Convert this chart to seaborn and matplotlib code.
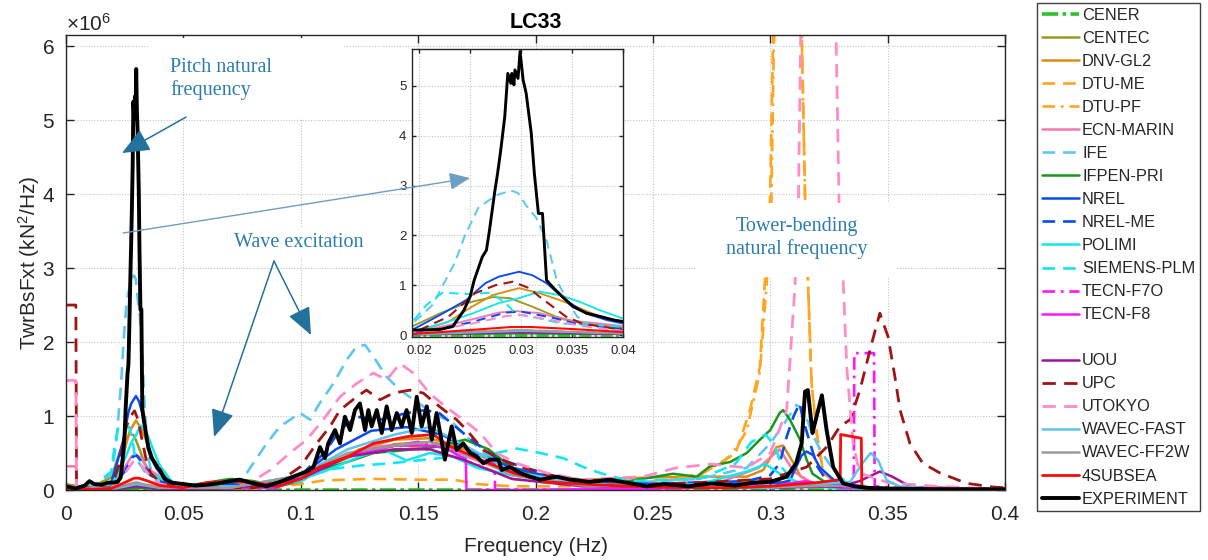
import numpy as np
import pandas as pd
import matplotlib
matplotlib.use("Agg")
import matplotlib.pyplot as plt
import seaborn as sns
from matplotlib.lines import Line2D
from matplotlib.patches import Rectangle, ArrowStyle
from matplotlib.ticker import FuncFormatter, ScalarFormatter

sns.set_theme(style="white")
plt.rcParams["font.family"] = ["Liberation Sans", "DejaVu Sans"]
plt.rcParams["mathtext.fontset"] = "custom"
plt.rcParams["mathtext.rm"] = "Liberation Sans"
plt.rcParams["mathtext.it"] = "Liberation Sans:italic"
plt.rcParams["mathtext.bf"] = "Liberation Sans:bold"

# ---------------------------------------------------------------------------
# Power spectral density of tower-base fore-aft shear, LC33 (values x 1e6)
# ---------------------------------------------------------------------------
SCALE = 1e6

f_cener = [0, 0.05, 0.1, 0.2, 0.3, 0.35, 0.4]
p_cener = [0.005, 0.005, 0.005, 0.005, 0.005, 0.005, 0.005]

f_centec = [0, 0.005, 0.012, 0.0193, 0.022, 0.0246, 0.0272, 0.0289, 0.0311, 0.0334, 0.036, 0.04, 0.045,
            0.055, 0.065, 0.075, 0.085, 0.095, 0.11, 0.125, 0.14, 0.155, 0.17, 0.185, 0.2, 0.22, 0.25,
            0.28, 0.3, 0.32, 0.35, 0.4]
p_centec = [0.08, 0.05, 0.06, 0.17, 0.43, 0.64, 0.76, 0.74, 0.57, 0.37, 0.23, 0.15, 0.07,
            0.06, 0.1, 0.1, 0.05, 0.1, 0.3, 0.5, 0.62, 0.65, 0.55, 0.35, 0.2, 0.1, 0.06,
            0.08, 0.12, 0.05, 0.02, 0.01]

f_dnvgl2 = [0, 0.012, 0.0193, 0.0229, 0.0252, 0.0272, 0.0298, 0.0318, 0.0338, 0.0354, 0.0377, 0.04,
            0.045, 0.055, 0.07, 0.085, 0.095, 0.11, 0.125, 0.14, 0.155, 0.17, 0.185, 0.2, 0.22, 0.25,
            0.27, 0.29, 0.297, 0.3027, 0.3055, 0.31, 0.313, 0.32, 0.35, 0.4]
p_dnvgl2 = [0.02, 0.02, 0.03, 0.27, 0.57, 0.8, 0.94, 0.84, 0.7, 0.57, 0.37, 0.27,
            0.1, 0.05, 0.08, 0.04, 0.08, 0.3, 0.55, 0.68, 0.7, 0.55, 0.35, 0.22, 0.14, 0.17,
            0.18, 0.18, 0.27, 0.58, 0.6, 0.36, 0.18, 0.06, 0.02, 0.01]

f_dtume = [0, 0.02, 0.03, 0.04, 0.05, 0.08, 0.1, 0.11, 0.13, 0.15, 0.165, 0.175, 0.19, 0.22, 0.25,
           0.26, 0.27, 0.2785, 0.2857, 0.2914, 0.2956, 0.2978, 0.2999, 0.3012, 0.3065, 0.3134,
           0.3148, 0.316, 0.3176, 0.3198, 0.3226, 0.33, 0.35, 0.4]
p_dtume = [0.02, 0.04, 0.1, 0.04, 0.02, 0.02, 0.08, 0.13, 0.15, 0.14, 0.14, 0.08, 0.05, 0.05, 0.1,
           0.15, 0.22, 0.35, 0.54, 1.08, 1.67, 2.88, 3.92, 6.08, 9.0, 6.2,
           4.0, 2.88, 1.44, 0.77, 0.23, 0.05, 0.02, 0.01]

f_dtupf = [0, 0.02, 0.03, 0.04, 0.05, 0.08, 0.1, 0.115, 0.13, 0.145, 0.16, 0.175, 0.19, 0.21, 0.25,
           0.27, 0.283, 0.29, 0.2956, 0.2985, 0.3005, 0.3015, 0.307, 0.3134, 0.3148, 0.316, 0.3176,
           0.3198, 0.3226, 0.33, 0.35, 0.4]
p_dtupf = [0.02, 0.03, 0.08, 0.03, 0.02, 0.02, 0.15, 0.4, 0.55, 0.6, 0.5, 0.35, 0.15, 0.08, 0.1,
           0.2, 0.45, 0.8, 1.6, 2.8, 3.9, 6.0, 9.0, 6.2, 4.0, 2.88, 1.44,
           0.77, 0.23, 0.05, 0.02, 0.01]

f_ecn = [0, 0.0042, 0.0045, 0.012, 0.0193, 0.0229, 0.0255, 0.0278, 0.0295, 0.0318, 0.0344, 0.04,
         0.045, 0.055, 0.07, 0.085, 0.1, 0.115, 0.13, 0.145, 0.16, 0.175, 0.19, 0.21, 0.25, 0.28,
         0.295, 0.304, 0.31, 0.32, 0.35, 0.4]
p_ecn = [0.32, 0.32, 0.02, 0.02, 0.03, 0.2, 0.33, 0.45, 0.48, 0.44, 0.3, 0.18,
         0.05, 0.05, 0.08, 0.04, 0.15, 0.4, 0.58, 0.62, 0.58, 0.4, 0.22, 0.1, 0.08, 0.12,
         0.3, 0.55, 0.25, 0.05, 0.02, 0.01]

f_ife = [0, 0.012, 0.0193, 0.0213, 0.0235, 0.0245, 0.0258, 0.0275, 0.029, 0.0297, 0.0305, 0.0315,
         0.0325, 0.0335, 0.0345, 0.0355, 0.0365, 0.04, 0.045, 0.06, 0.072, 0.077, 0.0855, 0.0912,
         0.0997, 0.104, 0.108, 0.1139, 0.1196, 0.1238, 0.1274, 0.131, 0.1366, 0.1423, 0.149, 0.1564,
         0.165, 0.1707, 0.178, 0.19, 0.21, 0.24, 0.27, 0.29, 0.3, 0.306, 0.311, 0.314, 0.318, 0.322,
         0.327, 0.333, 0.35, 0.4]
p_ife = [0.02, 0.05, 0.22, 0.6, 1.45, 2.0, 2.55, 2.8, 2.9, 2.85, 2.6, 2.35,
         1.9, 1.1, 0.7, 0.37, 0.23, 0.1, 0.05, 0.02, 0.03, 0.23, 0.63, 0.86,
         1.04, 0.95, 1.17, 1.44, 1.76, 1.94, 1.96, 1.8, 1.53, 1.35, 1.2, 1.04,
         0.9, 0.72, 0.5, 0.3, 0.15, 0.1, 0.15, 0.3, 0.63, 0.9, 1.15, 1.1, 0.75, 0.5,
         0.27, 0.08, 0.02, 0.01]

f_ifpen = [0, 0.012, 0.0193, 0.025, 0.03, 0.035, 0.04, 0.05, 0.06, 0.07, 0.08, 0.09, 0.1, 0.108,
           0.12, 0.131, 0.145, 0.157, 0.17, 0.18, 0.19, 0.2, 0.21, 0.22, 0.24, 0.2586, 0.2687,
           0.2743, 0.283, 0.29, 0.2956, 0.3, 0.304, 0.3055, 0.3084, 0.3127, 0.3155, 0.318, 0.325,
           0.35, 0.4]
p_ifpen = [0.01, 0.01, 0.01, 0.02, 0.03, 0.02, 0.02, 0.05, 0.1, 0.15, 0.12, 0.05, 0.12, 0.27,
           0.38, 0.5, 0.54, 0.58, 0.68, 0.55, 0.3, 0.2, 0.15, 0.12, 0.12, 0.22, 0.18,
           0.32, 0.38, 0.5, 0.68, 0.81, 1.04, 1.08, 0.95, 0.68, 0.41, 0.22, 0.07,
           0.02, 0.01]

f_nrel = [0, 0.012, 0.0193, 0.0223, 0.0246, 0.0265, 0.0278, 0.0298, 0.0311, 0.0325, 0.0344, 0.0364,
          0.0384, 0.04, 0.045, 0.05, 0.07, 0.085, 0.1, 0.115, 0.13, 0.145, 0.16, 0.175, 0.19, 0.21,
          0.25, 0.29, 0.305, 0.3084, 0.311, 0.3134, 0.3155, 0.3183, 0.321, 0.3255, 0.33, 0.35, 0.4]
p_nrel = [0.02, 0.03, 0.1, 0.43, 0.7, 1.04, 1.17, 1.27, 1.2, 1.04, 0.7, 0.43,
          0.3, 0.23, 0.1, 0.05, 0.08, 0.04, 0.2, 0.55, 0.8, 0.85, 0.75, 0.5, 0.3, 0.15,
          0.08, 0.08, 0.1, 0.13, 0.31, 0.47, 0.52, 0.47, 0.31, 0.18, 0.06, 0.02, 0.01]

f_nrelme = [0, 0.0193, 0.025, 0.0285, 0.03, 0.033, 0.036, 0.04, 0.05, 0.07, 0.085, 0.1, 0.11,
            0.1167, 0.1238, 0.1338, 0.1451, 0.153, 0.159, 0.1692, 0.1764, 0.1835, 0.1948, 0.209,
            0.226, 0.25, 0.29, 0.3, 0.304, 0.307, 0.31, 0.3125, 0.314, 0.317, 0.32, 0.324, 0.33,
            0.35, 0.4]
p_nrelme = [0.01, 0.02, 0.25, 0.45, 0.47, 0.35, 0.2, 0.12, 0.04, 0.06, 0.04, 0.2, 0.5,
            0.81, 0.99, 0.95, 1.04, 1.08, 1.04, 0.77, 0.59, 0.43, 0.31, 0.18,
            0.09, 0.08, 0.12, 0.2, 0.36, 0.72, 1.0, 1.17, 0.95, 0.63, 0.32, 0.13, 0.04,
            0.02, 0.01]

f_polimi = [0, 0.012, 0.0193, 0.0223, 0.0252, 0.0278, 0.0298, 0.0318, 0.0338, 0.0357, 0.0377, 0.04,
            0.045, 0.05, 0.07, 0.09, 0.11, 0.125, 0.135, 0.145, 0.155, 0.165, 0.175, 0.19, 0.21,
            0.24, 0.27, 0.29, 0.298, 0.305, 0.315, 0.33, 0.4]
p_polimi = [0.02, 0.02, 0.07, 0.23, 0.43, 0.64, 0.74, 0.87, 0.8, 0.67, 0.5, 0.33,
            0.12, 0.05, 0.05, 0.05, 0.25, 0.45, 0.55, 0.4, 0.5, 0.45, 0.3, 0.2, 0.1,
            0.05, 0.08, 0.25, 0.35, 0.2, 0.06, 0.02, 0.01]

f_siemens = [0, 0.012, 0.0193, 0.0207, 0.0223, 0.025, 0.027, 0.0285, 0.0295, 0.031, 0.034, 0.04,
             0.045, 0.06, 0.085, 0.1, 0.11, 0.125, 0.138, 0.15, 0.165, 0.175, 0.1835, 0.192, 0.202,
             0.2118, 0.2204, 0.2275, 0.24, 0.27, 0.285, 0.292, 0.298, 0.302, 0.305, 0.31, 0.32,
             0.35, 0.4]
p_siemens = [0.02, 0.06, 0.25, 0.6, 0.85, 0.82, 0.85, 0.64, 0.42, 0.37, 0.23, 0.17,
             0.05, 0.03, 0.03, 0.12, 0.27, 0.33, 0.36, 0.4, 0.45, 0.45, 0.5, 0.56, 0.5,
             0.43, 0.31, 0.23, 0.12, 0.15, 0.35, 0.65, 0.75, 0.6, 0.3, 0.12, 0.05,
             0.02, 0.01]

f_tecnf7o = [0, 0.012, 0.025, 0.03, 0.035, 0.045, 0.07, 0.09, 0.1, 0.115, 0.13, 0.15, 0.17, 0.18,
             0.1825, 0.1828, 0.2, 0.25, 0.3, 0.3356, 0.3358, 0.3442, 0.3445, 0.36, 0.4]
p_tecnf7o = [0.01, 0.01, 0.04, 0.07, 0.04, 0.01, 0.03, 0.03, 0.2, 0.4, 0.55, 0.65, 0.5, 0.4,
             0.35, 0.0, 0.0, 0.02, 0.04, 0.05, 1.85, 1.85, 0.05, 0.02, 0.01]

f_tecnf8 = [0, 0.012, 0.025, 0.03, 0.035, 0.045, 0.07, 0.09, 0.1, 0.12, 0.14, 0.16, 0.168, 0.1703,
            0.1706, 0.2, 0.25, 0.3, 0.315, 0.33, 0.4]
p_tecnf8 = [0.01, 0.01, 0.04, 0.07, 0.04, 0.01, 0.03, 0.03, 0.2, 0.45, 0.6, 0.6, 0.45, 0.42,
            0.0, 0.0, 0.02, 0.05, 0.12, 0.03, 0.01]

f_uou = [0, 0.0193, 0.03, 0.04, 0.07, 0.1, 0.12, 0.14, 0.155, 0.17, 0.19, 0.22, 0.3, 0.33, 0.338,
         0.3467, 0.352, 0.36, 0.4]
p_uou = [0.01, 0.01, 0.05, 0.02, 0.02, 0.15, 0.45, 0.55, 0.55, 0.4, 0.15, 0.05, 0.03, 0.05, 0.12,
         0.25, 0.18, 0.04, 0.01]

f_upc = [0, 0.0042, 0.0045, 0.012, 0.0193, 0.0229, 0.0255, 0.0275, 0.0292, 0.0308, 0.0318, 0.0331,
         0.0344, 0.036, 0.04, 0.045, 0.06, 0.08, 0.09, 0.0997, 0.1068, 0.1125, 0.1167, 0.1238,
         0.128, 0.1338, 0.1394, 0.1465, 0.1522, 0.159, 0.1664, 0.1707, 0.1778, 0.1891, 0.202,
         0.219, 0.2415, 0.27, 0.3, 0.3155, 0.324, 0.3297, 0.334, 0.3382, 0.3432, 0.3467, 0.3502,
         0.3531, 0.3553, 0.3595, 0.365, 0.3723, 0.3837, 0.395, 0.4]
p_upc = [2.5, 2.5, 0.03, 0.03, 0.03, 0.37, 0.84, 1.0, 1.07, 0.94, 0.77, 0.57,
         0.37, 0.23, 0.1, 0.05, 0.03, 0.03, 0.1, 0.31, 0.63, 0.86, 1.08, 1.26,
         1.35, 1.22, 1.31, 1.35, 1.31, 1.13, 0.95, 0.81, 0.54, 0.36, 0.23,
         0.11, 0.07, 0.1, 0.15, 0.31, 0.58, 0.86, 0.95, 1.35, 1.98, 2.39, 2.07,
         1.53, 1.08, 0.63, 0.36, 0.23, 0.09, 0.04, 0.03]

f_utokyo = [0, 0.0042, 0.0045, 0.012, 0.0193, 0.025, 0.0285, 0.03, 0.033, 0.036, 0.04, 0.05, 0.07,
            0.078, 0.087, 0.0954, 0.1025, 0.1096, 0.1167, 0.1238, 0.1309, 0.1366, 0.1423, 0.148,
            0.155, 0.1636, 0.1692, 0.1764, 0.1835, 0.192, 0.2048, 0.219, 0.2458, 0.26, 0.275, 0.29,
            0.3, 0.307, 0.3105, 0.312, 0.313, 0.3205, 0.328, 0.3293, 0.331, 0.3326, 0.3353, 0.338,
            0.35, 0.37, 0.4]
p_utokyo = [1.48, 1.48, 0.03, 0.03, 0.03, 0.22, 0.38, 0.4, 0.3, 0.18, 0.08, 0.03, 0.03,
            0.09, 0.27, 0.5, 0.68, 0.95, 1.26, 1.44, 1.58, 1.49, 1.71, 1.58,
            1.3, 1.08, 0.95, 0.77, 0.5, 0.36, 0.23, 0.14, 0.18, 0.3, 0.35, 0.3,
            0.5, 1.08, 2.74, 3.9, 6.2, 9.5, 6.2, 3.9, 2.88, 1.66, 0.63, 0.23,
            0.1, 0.05, 0.01]

f_wavecfast = [0, 0.0193, 0.03, 0.04, 0.07, 0.1, 0.12, 0.14, 0.155, 0.17, 0.19, 0.22, 0.3, 0.334,
               0.339, 0.3428, 0.346, 0.3496, 0.355, 0.37, 0.4]
p_wavecfast = [0.01, 0.01, 0.08, 0.03, 0.03, 0.2, 0.55, 0.75, 0.85, 0.6, 0.25, 0.08, 0.03, 0.11,
               0.35, 0.5, 0.4, 0.13, 0.05, 0.02, 0.01]

f_wavecff2w = [0, 0.0193, 0.03, 0.04, 0.07, 0.1, 0.12, 0.14, 0.155, 0.17, 0.19, 0.22, 0.3, 0.33,
               0.35, 0.4]
p_wavecff2w = [0.02, 0.02, 0.1, 0.03, 0.03, 0.2, 0.5, 0.6, 0.65, 0.5, 0.2, 0.06, 0.04, 0.06,
               0.02, 0.01]

f_4subsea = [0, 0.012, 0.0193, 0.025, 0.029, 0.031, 0.035, 0.04, 0.05, 0.06, 0.07, 0.08, 0.09, 0.1,
             0.108, 0.12, 0.131, 0.145, 0.1565, 0.163, 0.1764, 0.1906, 0.2048, 0.226, 0.25, 0.28,
             0.3, 0.32, 0.3298, 0.33, 0.3388, 0.339, 0.35, 0.4]
p_4subsea = [0.01, 0.01, 0.02, 0.1, 0.16, 0.16, 0.12, 0.06, 0.03, 0.1, 0.12, 0.1, 0.05, 0.15,
             0.31, 0.45, 0.63, 0.72, 0.75, 0.6, 0.41, 0.23, 0.11, 0.07, 0.04, 0.03,
             0.05, 0.1, 0.14, 0.75, 0.7, 0.03, 0.02, 0.01]

f_exp = [0, 0.004, 0.008, 0.01, 0.012, 0.015, 0.018, 0.02, 0.022, 0.0233, 0.0244, 0.025, 0.0254,
         0.0262, 0.0266, 0.0269, 0.0274, 0.0277, 0.028, 0.0284, 0.0287, 0.029, 0.0291, 0.0293,
         0.0294, 0.0297, 0.0299, 0.0302, 0.0305, 0.031, 0.0313, 0.0317, 0.0321, 0.0325, 0.0332,
         0.0342, 0.0351, 0.0364, 0.0378, 0.0391, 0.04, 0.042, 0.045, 0.05, 0.055, 0.06, 0.065,
         0.07, 0.074, 0.0798, 0.0855, 0.0912, 0.0968, 0.1025, 0.1054, 0.1082, 0.1103, 0.1117,
         0.1146, 0.1167, 0.1188, 0.121, 0.1231, 0.1252, 0.1274, 0.1288, 0.1302, 0.1324, 0.1345,
         0.1366, 0.1387, 0.1409, 0.143, 0.1451, 0.1473, 0.1494, 0.1515, 0.1537, 0.1558, 0.1579,
         0.1614, 0.1643, 0.1664, 0.1692, 0.1721, 0.175, 0.1778, 0.1806, 0.1842, 0.1856, 0.1891,
         0.1934, 0.1977, 0.202, 0.209, 0.2147, 0.223, 0.2318, 0.2403, 0.2474, 0.255, 0.265, 0.275,
         0.285, 0.293, 0.3, 0.307, 0.311, 0.3134, 0.3148, 0.316, 0.318, 0.319, 0.322, 0.324,
         0.3268, 0.331, 0.336, 0.341, 0.35, 0.37, 0.4]
p_exp = [0.05, 0.02, 0.06, 0.12, 0.08, 0.07, 0.1, 0.1, 0.11, 0.17, 0.5, 0.77, 1.1,
         1.57, 1.7, 2.1, 2.85, 3.25, 3.7, 4.38, 5.25, 5.05, 5.25, 5.02,
         5.32, 5.15, 5.69, 5.12, 4.85, 4.05, 3.25, 2.44, 2.44, 1.1, 0.94,
         0.74, 0.57, 0.44, 0.37, 0.3, 0.27, 0.15, 0.1, 0.08, 0.06, 0.07, 0.09,
         0.12, 0.14, 0.09, 0.05, 0.11, 0.18, 0.25, 0.31, 0.58, 0.43, 0.63,
         0.81, 0.63, 0.99, 0.81, 1.08, 1.17, 0.81, 1.08, 0.86, 1.08, 0.77,
         1.13, 0.81, 1.04, 0.86, 1.08, 0.77, 1.26, 0.86, 1.13, 0.68, 1.04,
         0.41, 0.86, 0.54, 0.63, 0.5, 0.45, 0.36, 0.41, 0.41, 0.27, 0.31,
         0.23, 0.18, 0.14, 0.18, 0.14, 0.11, 0.14, 0.09, 0.05, 0.08, 0.05, 0.09,
         0.06, 0.1, 0.11, 0.18, 0.36, 0.63, 1.33, 1.35, 0.77, 0.9, 1.28, 0.81,
         0.31, 0.09, 0.05, 0.03, 0.02, 0.01, 0.01]

# ---------------------------------------------------------------------------
# Line styles
# ---------------------------------------------------------------------------
DASH = (0, (4.8, 3.0))
DASHDOT = (0, (4.8, 2.2, 1.0, 2.2))
TIGHT_DASHDOT = (0, (4.5, 1.2, 1.0, 1.2))

SERIES = [
    ("CENER", f_cener, p_cener, "#2DC22D", TIGHT_DASHDOT, 2.6),
    ("CENTEC", f_centec, p_centec, "#9C9A1C", "-", 1.8),
    ("DNV-GL2", f_dnvgl2, p_dnvgl2, "#D98E12", "-", 1.8),
    ("DTU-ME", f_dtume, p_dtume, "#FFA51F", DASH, 1.9),
    ("DTU-PF", f_dtupf, p_dtupf, "#FFA51F", DASHDOT, 1.9),
    ("ECN-MARIN", f_ecn, p_ecn, "#F27AB0", "-", 1.8),
    ("IFE", f_ife, p_ife, "#5CC8F2", DASH, 1.9),
    ("IFPEN-PRI", f_ifpen, p_ifpen, "#1A961A", "-", 1.8),
    ("NREL", f_nrel, p_nrel, "#0A4BF0", "-", 1.8),
    ("NREL-ME", f_nrelme, p_nrelme, "#0A4BF0", DASH, 1.9),
    ("POLIMI", f_polimi, p_polimi, "#14E6EE", "-", 1.8),
    ("SIEMENS-PLM", f_siemens, p_siemens, "#14E6EE", DASH, 1.9),
    ("TECN-F7O", f_tecnf7o, p_tecnf7o, "#FF14FF", DASHDOT, 1.9),
    ("TECN-F8", f_tecnf8, p_tecnf8, "#FF14FF", "-", 1.8),
    ("UOU", f_uou, p_uou, "#A0139C", "-", 1.8),
    ("UPC", f_upc, p_upc, "#A01414", DASH, 2.0),
    ("UTOKYO", f_utokyo, p_utokyo, "#FF8CC8", DASH, 2.0),
    ("WAVEC-FAST", f_wavecfast, p_wavecfast, "#5CC4F0", "-", 1.8),
    ("WAVEC-FF2W", f_wavecff2w, p_wavecff2w, "#9A9A9A", "-", 1.8),
    ("4SUBSEA", f_4subsea, p_4subsea, "#FF0A0A", "-", 2.0),
    ("EXPERIMENT", f_exp, p_exp, "#000000", "-", 2.8),
]

ANNOT = "#2A7DAE"
ARROW = "#23729C"
AXCOL = "#262626"


def draw_series(axis, lw_scale):
    handles = []
    for label, f, p, color, ls, lw in SERIES:
        if len(f) != len(p):
            raise ValueError(f"{label}: {len(f)} frequencies vs {len(p)} values")
        df = pd.DataFrame({"Frequency": f, "PSD": np.asarray(p, dtype=float) * SCALE})
        sns.lineplot(data=df, x="Frequency", y="PSD", ax=axis, color=color,
                     linestyle=ls, linewidth=lw * lw_scale, estimator=None,
                     sort=False, legend=False)
        line = axis.lines[-1]
        line.set_label(label)
        handles.append(line)
    return handles


def style_axes(axis, labelsize, ticklen, pad):
    for s in axis.spines.values():
        s.set_color(AXCOL)
        s.set_linewidth(1.0)
    axis.tick_params(direction="in", length=ticklen, width=1.0, colors=AXCOL,
                     labelcolor="#262626", labelsize=labelsize, top=True, right=True,
                     bottom=True, left=True, pad=pad)
    axis.grid(True, linestyle=(0, (1, 1.5)), color="#c4c4c4", linewidth=0.8)
    axis.set_axisbelow(True)


W, H = 1208, 560
fig = plt.figure(figsize=(W / 100, H / 100), dpi=100)
fig.patch.set_facecolor("white")

# main axes
ax = fig.add_axes([66 / W, 1 - 490 / H, (1005 - 66) / W, (490 - 35) / H])
handles = draw_series(ax, 1.0)
style_axes(ax, 15, 6, 8)
ax.tick_params(axis="x", pad=11)
ax.set_xlim(0, 0.4)
ax.set_ylim(0, 6.15 * SCALE)
ax.set_xticks(np.arange(0, 0.4001, 0.05))
ax.xaxis.set_major_formatter(FuncFormatter(lambda v, _: f"{v:g}"))
ax.set_yticks(np.arange(0, 6.01, 1) * SCALE)
sf = ScalarFormatter(useMathText=True)
sf.set_powerlimits((0, 0))
ax.yaxis.set_major_formatter(sf)
ax.yaxis.get_offset_text().set_fontsize(15)
ax.set_xlabel("Frequency (Hz)", fontsize=15, color="#262626", labelpad=9)
ax.set_ylabel("TwrBsFxt (kN$^2$/Hz)", fontsize=15, color="#262626", labelpad=0)
ax.set_title("LC33", fontsize=15.5, fontweight="bold", color="#000000", pad=5)


def px_to_data(x, y):
    return ((x - 66) / 2347.5, (490 - y) / 74 * SCALE)


# white label boxes
for (x0, y0, x1, y1) in [(148, 38, 343, 118), (697, 203, 897, 277), (226, 228, 372, 257)]:
    a = px_to_data(x0, y1)
    b = px_to_data(x1, y0)
    ax.add_patch(Rectangle(a, b[0] - a[0], b[1] - a[1], facecolor="white",
                           edgecolor="none", zorder=4))

serif = ["Liberation Serif", "DejaVu Serif"]
ax.text(*px_to_data(170, 79), "Pitch natural\nfrequency", family=serif, fontsize=14.5,
        color=ANNOT, ha="left", va="center", linespacing=1.2, zorder=6)
ax.text(*px_to_data(299, 242), "Wave excitation", family=serif, fontsize=14.5,
        color=ANNOT, ha="center", va="center", zorder=6)
ax.text(*px_to_data(797, 238), "Tower-bending\nnatural frequency", family=serif,
        fontsize=14.5, color=ANNOT, ha="center", va="center", linespacing=1.2,
        multialignment="center", zorder=6)

head = ArrowStyle("-|>", head_length=0.9, head_width=0.38)
arrow_kw = dict(arrowstyle=head, mutation_scale=19, color=ARROW, lw=1.1,
                shrinkA=0, shrinkB=0)
ax.annotate("", xy=px_to_data(122, 153), xytext=px_to_data(186, 117),
            arrowprops=arrow_kw, zorder=6)
ax.annotate("", xy=px_to_data(214, 437), xytext=px_to_data(274, 261),
            arrowprops=arrow_kw, zorder=6)
ax.annotate("", xy=px_to_data(311, 335), xytext=px_to_data(274, 261),
            arrowprops=arrow_kw, zorder=6)

# zoomed view of the pitch resonance
ins = fig.add_axes([412 / W, 1 - 337 / H, (623 - 412) / W, (337 - 49) / H])
ins.set_facecolor("white")
draw_series(ins, 0.75)
style_axes(ins, 9.5, 3, 4)
ins.tick_params(axis="x", pad=6)
ins.set_xlim(0.0193, 0.04)
ins.set_ylim(-0.04 * SCALE, 5.74 * SCALE)
ins.set_xticks([0.02, 0.025, 0.03, 0.035, 0.04])
ins.xaxis.set_major_formatter(FuncFormatter(lambda v, _: f"{v:g}"))
ins.set_yticks(np.arange(0, 5.01, 1) * SCALE)
ins.yaxis.set_major_formatter(FuncFormatter(lambda v, _: f"{v / SCALE:g}"))
ins.set_xlabel("")
ins.set_ylabel("")

ins.annotate("", xy=px_to_data(470, 178), xycoords=ax.transData,
             xytext=px_to_data(123, 233), textcoords=ax.transData,
             arrowprops=dict(arrowstyle=head, mutation_scale=14, color="#6E9FC2",
                             lw=1.0, shrinkA=0, shrinkB=0),
             annotation_clip=False, zorder=10)

# legend with a spacer row between the two participant groups
spacer = Line2D([], [], linestyle="none", label=" ")
leg_handles = handles[:14] + [spacer] + handles[14:]
leg_labels = [h.get_label() for h in leg_handles]
leg = fig.legend(leg_handles, leg_labels, loc="upper left",
                 bbox_to_anchor=(1037 / W, 1 - 3 / H), frameon=True, fancybox=False,
                 edgecolor="#404040", framealpha=1, fontsize=11.8, handlelength=2.25,
                 handletextpad=0.2, labelspacing=0.49, borderpad=0.3, borderaxespad=0)
leg.get_frame().set_linewidth(1.0)

fig.savefig("out.png", dpi=100)
